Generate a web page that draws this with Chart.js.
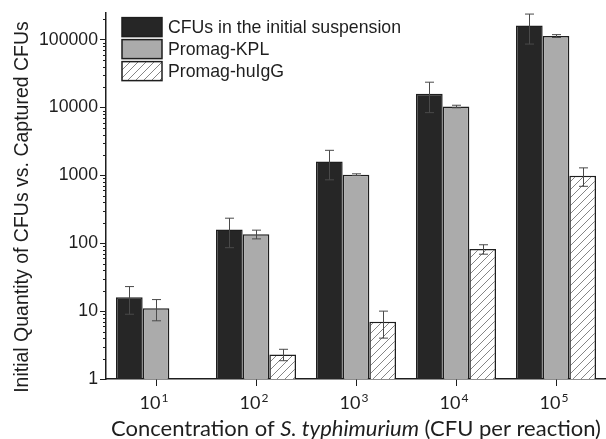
<!DOCTYPE html>
<html>
<head>
<meta charset="utf-8">
<script src="https://cdn.jsdelivr.net/npm/chart.js@4.4.1/dist/chart.umd.min.js"></script>
<style>
	html, body { margin: 0; padding: 0; background: #fff; }
	#wrap { width: 606px; height: 439px; }
</style>
</head>
<body>
<div id="wrap"><canvas id="cfuChart"></canvas></div>
<script>
// Inoculum concentration (exponent of 10) and mean CFU counts with SD
const categories = ["10^1", "10^2", "10^3", "10^4", "10^5"];
const seriesNames = ["CFUs in the initial suspension", "Promag-KPL", "Promag-huIgG"];
const initialCfu = [16, 160, 1600, 16000, 162000];
const initialErr = [7, 74, 740, 7600, 76000];
const kplCfu = [11, 136, 1025, 10350, 113000];
const kplErr = [3.8, 20, 30, 450, 5500];
const huIgGCfu = [null, 2.3, 7, 82, 990];
const huIgGErr = [null, 0.44, 3, 13, 300];
const yTicks = [1, 10, 100, 1000, 10000, 100000];

const TEXT = "#1e1e1e";
const SANS = "'Liberation Sans', Arial, sans-serif";
const CAL = "Lato, 'Open Sans', sans-serif";

/**
 * Diagonal hatch fill used for the huIgG bars
 */
function makeHatch(ctx) {
	const size = 8;
	const tile = document.createElement("canvas");
	tile.width = size;
	tile.height = size;
	const g = tile.getContext("2d");
	g.fillStyle = "#fff";
	g.fillRect(0, 0, size, size);
	g.strokeStyle = "#666";
	g.lineWidth = 0.8;
	g.beginPath();
	g.moveTo(-1, size + 1); g.lineTo(size + 1, -1);
	g.moveTo(-1, 1); g.lineTo(1, -1);
	g.moveTo(size - 1, size + 1); g.lineTo(size + 1, size - 1);
	g.stroke();
	return ctx.createPattern(tile, "repeat");
}

// Whiskers (mean +/- SD) on top of each bar
const errorBars = {
	id: "errorBars",
	afterDatasetsDraw(chart) {
		const ctx = chart.ctx;
		const y = chart.scales.y;
		ctx.save();
		ctx.strokeStyle = "#4a4a4a";
		ctx.lineWidth = 1;
		chart.data.datasets.forEach((ds, i) => {
			chart.getDatasetMeta(i).data.forEach((bar, j) => {
				const v = ds.data[j];
				const e = ds.errors[j];
				if (v == null || e == null) return;
				const top = y.getPixelForValue(v + e);
				const bot = y.getPixelForValue(v - e);
				const x = Math.round(bar.x) + 0.5;
				ctx.beginPath();
				ctx.moveTo(x, top); ctx.lineTo(x, bot);
				ctx.moveTo(x - 4.5, top); ctx.lineTo(x + 4.5, top);
				ctx.moveTo(x - 4.5, bot); ctx.lineTo(x + 4.5, bot);
				ctx.stroke();
			});
		});
		ctx.restore();
	}
};

// Minor log ticks, powers of ten on the x axis, axis titles and legend
const decorations = {
	id: "decorations",
	afterDraw(chart) {
		const ctx = chart.ctx;
		const area = chart.chartArea;
		const y = chart.scales.y;
		const x = chart.scales.x;
		ctx.save();

		// minor ticks 2..9 per decade
		ctx.strokeStyle = TEXT;
		ctx.lineWidth = 1;
		ctx.beginPath();
		for (let d = 0; d < 6; d++) {
			for (let m = 2; m <= 9; m++) {
				const v = m * Math.pow(10, d);
				if (v > y.max) continue;
				const py = Math.round(y.getPixelForValue(v)) + 0.5;
				ctx.moveTo(area.left, py);
				ctx.lineTo(area.left - 3, py);
			}
		}
		ctx.stroke();

		// x tick labels as 10 with superscript exponent
		ctx.fillStyle = TEXT;
		ctx.textBaseline = "alphabetic";
		categories.forEach((c, i) => {
			const [base, exp] = c.split("^");
			const px = x.getPixelForTick(i);
			ctx.font = "18px " + CAL;
			const wb = ctx.measureText(base).width;
			ctx.font = "12px " + CAL;
			const we = ctx.measureText(exp).width;
			const left = px - 2 - (wb + we + 1) / 2;
			ctx.textAlign = "left";
			ctx.font = "18px " + CAL;
			ctx.fillText(base, left, area.bottom + 30);
			ctx.font = "12px " + CAL;
			ctx.fillText(exp, left + wb + 1, area.bottom + 23);
		});

		// x axis title with italic species name
		const parts = [
			["Concentration of ", "normal"],
			["S. typhimurium", "italic"],
			[" (CFU per reaction)", "normal"]
		];
		let total = 0;
		parts.forEach((p) => {
			ctx.font = p[1] + " 22px " + CAL;
			total += ctx.measureText(p[0]).width;
		});
		let cx = (area.left + area.right) / 2 - total / 2;
		ctx.textAlign = "left";
		parts.forEach((p) => {
			ctx.font = p[1] + " 22px " + CAL;
			ctx.fillText(p[0], cx, area.bottom + 57);
			cx += ctx.measureText(p[0]).width;
		});

		// y axis title
		ctx.save();
		ctx.translate(27.5, 207);
		ctx.rotate(-Math.PI / 2);
		ctx.textAlign = "center";
		ctx.font = "19.5px " + SANS;
		ctx.fillText("Initial Quantity of CFUs vs. Captured CFUs", 0, 0);
		ctx.restore();

		// legend
		const bx = area.left + 16;
		let by = area.top + 5;
		chart.data.datasets.forEach((ds) => {
			ctx.fillStyle = ds.backgroundColor;
			ctx.fillRect(bx, by, 40, 19);
			ctx.strokeStyle = "#1e1e1e";
			ctx.lineWidth = 1.5;
			ctx.strokeRect(bx, by, 40, 19);
			ctx.fillStyle = TEXT;
			ctx.font = "17.7px " + SANS;
			ctx.textAlign = "left";
			ctx.textBaseline = "middle";
			ctx.fillText(ds.label, bx + 46, by + 10);
			by += 22;
		});
		ctx.restore();
	}
};

function drawCfuChart() {
	const canvas = document.getElementById("cfuChart");
	const hatch = makeHatch(canvas.getContext("2d"));

	const config = {
		type: "bar",
		data: {
			labels: categories,
			datasets: [
				{ label: seriesNames[0], data: initialCfu, errors: initialErr, backgroundColor: "#262626" },
				{ label: seriesNames[1], data: kplCfu, errors: kplErr, backgroundColor: "#ababab" },
				{ label: seriesNames[2], data: huIgGCfu, errors: huIgGErr, backgroundColor: hatch }
			]
		},
		options: {
			responsive: true,
			maintainAspectRatio: false,
			animation: false,
			layout: { padding: { top: 11, right: 0, left: 0, bottom: 0 } },
			datasets: {
				bar: {
					categoryPercentage: 0.8,
					barPercentage: 1.0,
					borderColor: "#1e1e1e",
					borderWidth: 1.5
				}
			},
			plugins: {
				legend: { display: false },
				tooltip: { enabled: false }
			},
			scales: {
				x: {
					grid: { display: true, drawOnChartArea: false, offset: false, tickLength: 7, color: TEXT },
					border: { color: TEXT, width: 1.5 },
					ticks: { display: false },
					afterFit: (s) => { s.height = 60; }
				},
				y: {
					type: "logarithmic",
					min: 1,
					max: 250000,
					grid: { display: true, drawOnChartArea: false, tickLength: 6, color: TEXT },
					border: { color: TEXT, width: 1.5 },
					ticks: {
						color: TEXT,
						padding: 2,
						font: { family: SANS, size: 17.7 },
						callback: (v) => String(v)
					},
					afterBuildTicks: (s) => {
						s.ticks = yTicks.map((v) => ({ value: v, major: true }));
					},
					afterFit: (s) => { s.width = 106; }
				}
			}
		},
		plugins: [errorBars, decorations]
	};

	window.cfuChartObj = new Chart(canvas, config);
}

drawCfuChart();
</script>
</body>
</html>
